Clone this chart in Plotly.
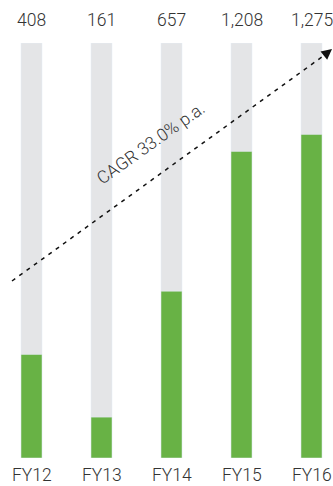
import plotly.graph_objects as go

categories = ["FY12", "FY13", "FY14", "FY15", "FY16"]
values = [408, 161, 657, 1208, 1275]
value_labels = ["408", "161", "657", "1,208", "1,275"]
background_max = 1635
cagr_label = "CAGR 33.0% p.a."

GREEN = "#68B245"
GREY = "#E4E5E7"
TEXT = "#333333"
FONT = "Roboto, Liberation Sans, Arial, sans-serif"
WEIGHT = 300
FS = 17.5

W, H = 333, 486
top, bottom = 43, 28
plot_h = H - top - bottom

def px_to_paper(px, py):
    return px / W, (H - bottom - py) / plot_h

xs = list(range(len(categories)))

fig = go.Figure()
fig.add_trace(go.Bar(x=xs, y=[background_max] * len(xs), marker_color=GREY,
                     width=0.3, hoverinfo="skip", showlegend=False))
fig.add_trace(go.Bar(x=xs, y=values, marker_color=GREEN, width=0.3,
                     showlegend=False))

for x, lab in zip(xs, value_labels):
    fig.add_annotation(x=x, y=px_to_paper(0, 20.5)[1], xref="x", yref="paper",
                       text=lab, showarrow=False, xanchor="center", yanchor="middle",
                       font=dict(family=FONT, size=FS, color=TEXT, weight=WEIGHT))

for x, lab in zip(xs, categories):
    fig.add_annotation(x=x, y=px_to_paper(0, 486)[1], xref="x", yref="paper",
                       text=lab, showarrow=False, xanchor="center", yanchor="bottom",
                       borderpad=0,
                       font=dict(family=FONT, size=FS, color=TEXT, weight=WEIGHT))

# dashed CAGR arrow
sx, sy = px_to_paper(12, 281)
ex, ey = px_to_paper(333, 49)
ex2, ey2 = px_to_paper(326, 54)
fig.add_shape(type="line", xref="paper", yref="paper", x0=sx, y0=sy, x1=ex2, y1=ey2,
              line=dict(color="#111111", width=1.5, dash="4px,5px"))
fig.add_annotation(xref="paper", yref="paper", x=ex, y=ey, ax=-9, ay=6.5,
                   axref="pixel", ayref="pixel", text="", showarrow=True,
                   arrowhead=2, arrowsize=1.4, arrowwidth=1.5, arrowcolor="#111111")
tx, ty = px_to_paper(151, 143)
fig.add_annotation(xref="paper", yref="paper", x=tx, y=ty, text=cagr_label,
                   showarrow=False, textangle=-35.4, xanchor="center", yanchor="middle",
                   font=dict(family=FONT, size=FS, color=TEXT, weight=WEIGHT))

fig.update_layout(
    width=W, height=H, margin=dict(l=0, r=0, t=top, b=bottom),
    paper_bgcolor="white", plot_bgcolor="white", barmode="overlay",
    xaxis=dict(range=[-31.5 / 70, (W - 31.5) / 70], showticklabels=False,
               showgrid=False, zeroline=False, showline=False, ticks=""),
    yaxis=dict(range=[0, background_max], visible=False),
)
fig.write_html("out.html")
